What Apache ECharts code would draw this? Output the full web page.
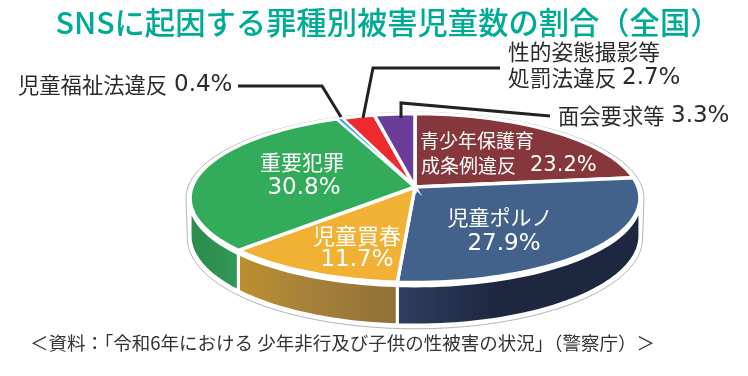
<!DOCTYPE html>
<html>
<head>
<meta charset="utf-8">
<style>html,body{margin:0;padding:0;background:#fff}#main{width:748px;height:376px}</style>
<script src="https://cdn.jsdelivr.net/npm/echarts@6/dist/echarts.min.js"></script>
</head>
<body>
<div id="main"></div>
<script>
// データ（時計回り、12時の位置から）
var categories = ['青少年保護育成条例違反', '児童ポルノ', '児童買春', '重要犯罪', '児童福祉法違反', '性的姿態撮影等処罰法違反', '面会要求等'];
var values = [23.2, 27.9, 11.7, 30.8, 0.4, 2.7, 3.3];
var colors = ['#85373b', '#42628c', '#f0b135', '#32ac5b', '#1fa8dc', '#ee2a2e', '#6a3d98'];
var wallColors = [null, ['#303f60', '#1d2840', '#1d2840'], ['#bd8f2d', '#a8823a', '#8f7137'], ['#349a58', '#2f9152', '#2c8a4c'], null, null, null];
var titleText = 'SNSに起因する罪種別被害児童数の割合（全国）';
var sourceText = '＜資料：「令和6年における 少年非行及び子供の性被害の状況」（警察庁）＞';

// 擬似3D円の投影
var CX = 415, CY = 187, RX = 223, RY = 83, P = 0.131, DEPTH = 37;
var WALL_FROM = 97.5, WALL_TO = 262.5;

function proj(a, k, drop){
    var t = (90 - a) * Math.PI / 180;
    var w = 1 + P * Math.sin(t);
    return [CX + k * RX * Math.cos(t) / w, CY - k * RY * Math.sin(t) / w + (drop || 0) * DEPTH / w];
}
function arc(a0, a1, k, drop){
    var pts = [], n = Math.max(2, Math.ceil(Math.abs(a1 - a0) / 2));
    for(var i = 0; i <= n; i++) pts.push(proj(a0 + (a1 - a0) * i / n, k, drop));
    return pts;
}
var total = values.reduce(function(s, v){return s + v;}, 0);
function range(i){
    var sum = 0;
    for(var j = 0; j < i; j++) sum += values[j];
    return [sum / total * 360, (sum + values[i]) / total * 360];
}
var seriesData = values.map(function(v, i){return {name: categories[i], value: v};});

function renderOutline(){
    var pts = arc(WALL_TO, 360 + WALL_FROM, 1.018, 0).concat(arc(WALL_FROM, WALL_TO, 1.012, 1.06));
    return {type: 'polygon', shape: {points: pts}, style: {fill: '#fff', stroke: '#b4b4b4', lineWidth: 1}};
}
function renderWall(params){
    var i = params.dataIndex, r = range(i), stops = wallColors[i];
    var a0 = Math.max(r[0], WALL_FROM), a1 = Math.min(r[1], WALL_TO);
    if(!stops || a1 <= a0) return {type: 'group', children: []};
    var pts = arc(a0, a1, 1, 0.08).concat(arc(a1, a0, 1, 1));
    return {type: 'polygon', shape: {points: pts}, style: {
        fill: {type: 'linear', x: i === 3 ? 1 : 0, y: 0, x2: i === 3 ? 0 : 1, y2: 0, colorStops: [
            {offset: 0, color: stops[0]}, {offset: 0.4, color: stops[1]}, {offset: 1, color: stops[2]}
        ]},
        stroke: '#fff', lineWidth: 3, lineJoin: 'miter'
    }};
}
function renderTop(params, api){
    var i = params.dataIndex, r = range(i);
    var pts = [proj(0, 0)].concat(arc(r[0], r[1], 1, 0));
    return {type: 'polygon', z2: api.value(0) < 1 ? 5 : 1, shape: {points: pts}, style: {
        fill: colors[i], stroke: '#fff', lineWidth: api.value(0) < 1 ? 1.6 : 3.5, lineJoin: 'miter'
    }};
}

function txt(s, x, y, font, fill, align){
    return {type: 'text', z: 100, silent: true, style: {text: s, x: x, y: y, font: font, fill: fill, textAlign: align || 'center', textVerticalAlign: 'middle'}};
}
function line(pts){
    return {type: 'polyline', z: 99, silent: true, shape: {points: pts}, style: {stroke: '#222', lineWidth: 3, fill: null}};
}
var JP = '"Noto Sans CJK JP"', NUM = '"DejaVu Sans"';
function pct(i){return values[i].toFixed(1) + '%';}

var chart = echarts.init(document.getElementById('main'), null, {renderer: 'canvas'});
chart.setOption({
    animation: false,
    graphic: {elements: [
        txt(titleText, 388, 22, '500 30.3px ' + JP, '#00ab96'),
        // 引き出し線
        line([[238, 86], [322, 86], [341, 117]]),
        line([[500, 68], [373, 68], [363, 118]]),
        line([[401, 118], [401, 103], [550, 116]]),
        // 外側ラベル
        txt('児童福祉法違反', 18, 85, '400 21.3px ' + JP, '#2a2a2a', 'left'),
        txt(pct(4), 174, 85, '400 23px ' + NUM, '#2a2a2a', 'left'),
        txt('性的姿態撮影等', 508, 52, '400 21.7px ' + JP, '#2a2a2a', 'left'),
        txt('処罰法違反', 508, 78, '400 21.7px ' + JP, '#2a2a2a', 'left'),
        txt(pct(5), 622, 78, '400 23px ' + NUM, '#2a2a2a', 'left'),
        txt('面会要求等', 558, 116, '400 21.3px ' + JP, '#2a2a2a', 'left'),
        txt(pct(6), 671, 116, '400 23px ' + NUM, '#2a2a2a', 'left'),
        // 内側ラベル
        txt('青少年保護育', 420, 141, '400 19px ' + JP, '#fff', 'left'),
        txt('成条例違反', 421, 166, '400 19px ' + JP, '#fff', 'left'),
        txt(pct(0), 530, 166, '400 21px ' + NUM, '#fff', 'left'),
        txt('児童ポルノ', 500, 217, '400 21px ' + JP, '#fff'),
        txt(pct(1), 504, 244, '400 23px ' + NUM, '#fff'),
        txt('児童買春', 357, 236, '400 22px ' + JP, '#fff'),
        txt(pct(2), 357, 260, '400 23px ' + NUM, '#fff'),
        txt('重要犯罪', 302, 162, '400 21px ' + JP, '#fff'),
        txt(pct(3), 304, 188, '400 23px ' + NUM, '#fff'),
        // 出典
        txt(sourceText, 30, 343, '400 18.5px ' + JP, '#333', 'left')
    ]},
    series: [
        {type: 'custom', coordinateSystem: 'none', silent: true, z: 1, clip: false, data: [0], renderItem: renderOutline},
        {type: 'custom', coordinateSystem: 'none', silent: true, z: 2, clip: false, data: seriesData, renderItem: renderWall},
        {type: 'custom', coordinateSystem: 'none', silent: true, z: 3, clip: false, data: seriesData, renderItem: renderTop}
    ]
});
</script>
</body>
</html>
